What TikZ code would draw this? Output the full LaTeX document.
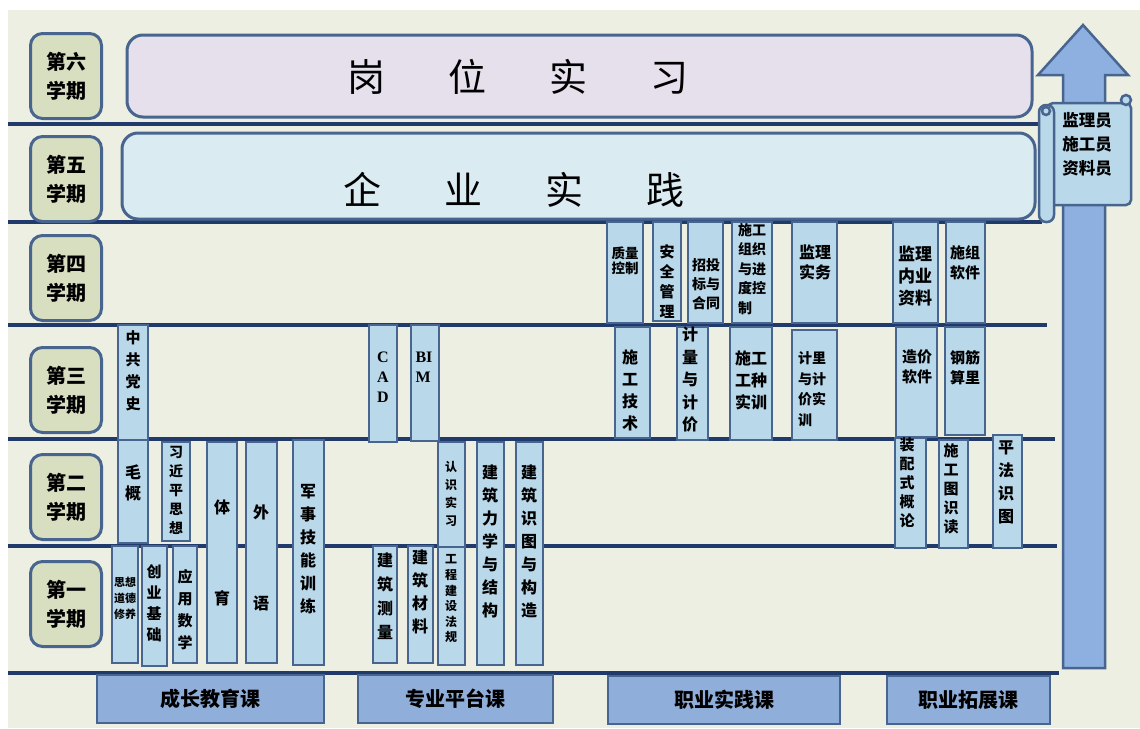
\documentclass[tikz,border=0pt]{standalone}
\usepackage{fontspec}
\newfontfamily\cjk{Noto Sans CJK SC}
\newfontfamily\serifb{Liberation Serif}
\definecolor{bg}{HTML}{ECEFE1}
\definecolor{navy}{HTML}{1F3A6B}
\definecolor{edge}{HTML}{47658F}
\definecolor{termfill}{HTML}{D8DEC0}
\definecolor{crsfill}{HTML}{B9D8EA}
\definecolor{catfill}{HTML}{8FAEDA}
\definecolor{jobfill}{HTML}{E5E0EC}
\definecolor{firmfill}{HTML}{DBEBF2}
\definecolor{arrowfill}{HTML}{8EB0E0}

\begin{document}
\begin{tikzpicture}[x=1pt, y=-1pt,
    term/.style={draw=edge, line width=3pt, fill=termfill, rounded corners=12pt, minimum width=71pt, minimum height=85pt, align=center, font=\cjk\bfseries\fontsize{20}{29}\selectfont},
    stagebar/.style={draw=edge, line width=3pt, rounded corners=16pt},
    course/.style={draw=edge, line width=2.6pt, fill=crsfill},
    crs/.style 2 args={align=center, inner sep=0pt, font=\cjk\bfseries\fontsize{#1}{#2}\selectfont},
    latin/.style={align=center, inner sep=0pt, font=\serifb\bfseries\fontsize{16}{20}\selectfont},
    bigtext/.style={inner sep=0pt, font=\cjk\fontsize{38}{40}\selectfont},
    cat/.style={draw=edge, line width=2.6pt, fill=catfill, minimum height=48pt, font=\cjk\bfseries\fontsize{20}{24}\selectfont},
    scroll/.style={draw=edge, line width=2.5pt, fill=crsfill},
    rowline/.style={navy, line width=3.5pt}]
    \useasboundingbox (0,0) rectangle (1140,728);
    \fill[white] (0,0) rectangle (1140,728);
    \fill[bg] (8,10) rectangle (1140,728);

    \foreach \y/\e in {124/1042, 222/1042, 325/1047, 439/1055, 546/1057, 673/1059}
        \draw[rowline] (8,\y) -- (\e,\y);

    \foreach \n/\s/\y in {6/六/76, 5/五/179, 4/四/278, 3/三/390, 2/二/497, 1/一/604}
        \node[term] (term\n) at (66,\y) {第\s\\学期};

    \draw[stagebar, fill=jobfill] (127,35) rectangle (1032,117);
    \node[bigtext] (gangwei) at (518,77) {岗\hspace{63pt}位\hspace{63pt}实\hspace{63pt}习};
    \draw[stagebar, fill=firmfill] (122,133) rectangle (1035,219);
    \node[bigtext] (qiye) at (514,190) {企\hspace{63pt}业\hspace{63pt}实\hspace{63pt}践};

    \draw[draw=edge, line width=2.5pt, fill=arrowfill] (1063,668) -- (1063,75) -- (1038,75) -- (1083,25) -- (1128,75) -- (1105,75) -- (1105,668) -- cycle;
    \draw[scroll, rounded corners=5pt] (1048,103) rectangle (1131,205);
    \draw[scroll, rounded corners=7pt] (1039,105) rectangle (1054,222);
    \draw[scroll] (1126,100) circle (5pt);
    \draw[scroll] (1046,111) circle (4pt);
    \node[crs={16.5}{24}] (posts) at (1087,144) {监理员\\施工员\\资料员};

    \draw[course] (118,325) rectangle (148,440); \node[crs={15}{22}] (dangshi) at (133,371) {中\\共\\党\\史};
    \draw[course] (118,440) rectangle (148,543); \node[crs={16}{21}] (maogai) at (133,483) {毛\\概};
    \draw[course] (162,442) rectangle (190,541); \node[crs={14}{19}] (xisixiang) at (176,490) {习\\近\\平\\思\\想};
    \draw[course] (207,442) rectangle (237,663); \node[crs={16}{91}] (tiyu) at (222,553) {体\\育};
    \draw[course] (246,442) rectangle (277,663); \node[crs={16}{91}] (waiyu) at (261,558) {外\\语};
    \draw[course] (293,440) rectangle (324,665); \node[crs={16}{23}] (junshi) at (308,549) {军\\事\\技\\能\\训\\练};
    \draw[course] (112,546) rectangle (138,663); \node[crs={11}{16}] (sixiu) at (125,598) {思想\\道德\\修养};
    \draw[course] (142,546) rectangle (167,666); \node[crs={15}{21}] (chuangye) at (154,603) {创\\业\\基\\础};
    \draw[course] (173,546) rectangle (197,663); \node[crs={15}{22}] (shuxue) at (185,610) {应\\用\\数\\学};

    \draw[course] (369,325) rectangle (397,442); \node[latin] (cad) at (383,377) {C\\A\\D};
    \draw[course] (411,325) rectangle (439,441); \node[latin, align=left] (bim) at (424,367) {BI\\M};
    \draw[course] (438,442) rectangle (465,547); \node[crs={12}{18}] (renshi) at (451,494) {认\\识\\实\\习};
    \draw[course] (438,547) rectangle (465,665); \node[crs={12}{15.6}] (fagui) at (451,599) {工\\程\\建\\设\\法\\规};
    \draw[course] (373,546) rectangle (397,663); \node[crs={16}{24}] (celiang) at (385,596) {建\\筑\\测\\量};
    \draw[course] (408,546) rectangle (433,663); \node[crs={16}{23}] (cailiao) at (420,592) {建\\筑\\材\\料};
    \draw[course] (477,442) rectangle (504,665); \node[crs={16}{23}] (lixue) at (490,541) {建\\筑\\力\\学\\与\\结\\构};
    \draw[course] (516,442) rectangle (543,665); \node[crs={16}{23}] (shitu) at (529,541) {建\\筑\\识\\图\\与\\构\\造};

    \draw[course] (607,222) rectangle (643,323); \node[crs={13.5}{15}] (zhiliang) at (625,261) {质量\\控制};
    \draw[course] (653,222) rectangle (681,321); \node[crs={15}{20}] (anquan) at (667,282) {安\\全\\管\\理};
    \draw[course] (688,222) rectangle (723,323); \node[crs={14}{19}] (zhaotou) at (706,284) {招投\\标与\\合同};
    \draw[course] (732,222) rectangle (772,323); \node[crs={14}{19.5}, align=left] (zuzhi) at (752,269) {施工\\组织\\与进\\度控\\制};
    \draw[course] (792,222) rectangle (837,323); \node[crs={16}{20}] (jianli) at (815,262) {监理\\实务};
    \draw[course] (615,327) rectangle (650,438); \node[crs={16}{22}] (jishu) at (630,390) {施\\工\\技\\术};
    \draw[course] (677,327) rectangle (708,440); \node[crs={16}{22.5}] (jiliang) at (690,380) {计\\量\\与\\计\\价};
    \draw[course] (730,327) rectangle (772,440); \node[crs={16}{22}] (gongzhong) at (751,380) {施工\\工种\\实训};
    \draw[course] (792,330) rectangle (837,440); \node[crs={14}{20.5}, align=left] (jijia) at (812,389) {计里\\与计\\价实\\训};

    \draw[course] (893,222) rectangle (938,323); \node[crs={17}{22}] (neiye) at (915,276) {监理\\内业\\资料};
    \draw[course] (946,222) rectangle (985,323); \node[crs={15}{20}] (shizu) at (965,263) {施组\\软件};
    \draw[course] (896,327) rectangle (937,437); \node[crs={15}{20}] (zaojia) at (917,367) {造价\\软件};
    \draw[course] (945,327) rectangle (985,435); \node[crs={15}{20}] (gangjin) at (965,368) {钢筋\\算里};
    \draw[course] (895,438) rectangle (926,548); \node[crs={15}{19}] (zhuangpei) at (907,483) {装\\配\\式\\概\\论};
    \draw[course] (939,440) rectangle (968,548); \node[crs={15}{19}] (shigongtu) at (951,489) {施\\工\\图\\识\\读};
    \draw[course] (993,435) rectangle (1022,548); \node[crs={16}{23}] (pingfa) at (1006,482) {平\\法\\识\\图};

    \node[cat, minimum width=227pt] (chengzhang) at (210.5,699) {成长教育课};
    \node[cat, minimum width=195pt] (zhuanye) at (455.5,699) {专业平台课};
    \node[cat, minimum width=232pt] (shijian) at (724,700) {职业实践课};
    \node[cat, minimum width=163pt] (tuozhan) at (968.5,700) {职业拓展课};
\end{tikzpicture}
\end{document}
